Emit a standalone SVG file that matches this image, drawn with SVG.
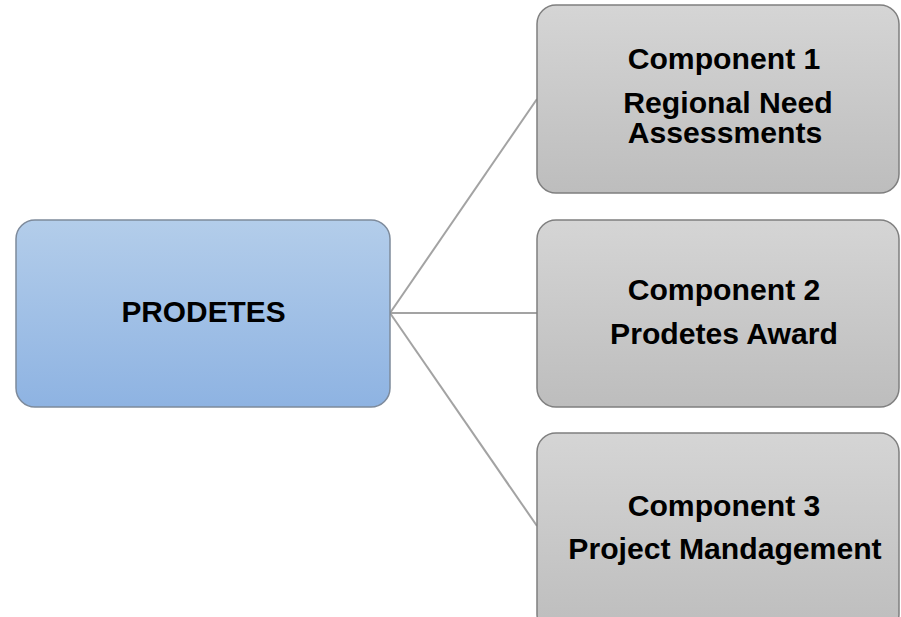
<svg xmlns="http://www.w3.org/2000/svg" width="901" height="617" viewBox="0 0 901 617">
  <defs>
    <linearGradient id="gBlue" x1="0" y1="0" x2="0" y2="1">
      <stop offset="0" stop-color="#b3cdea"/>
      <stop offset="1" stop-color="#8eb3e2"/>
    </linearGradient>
    <linearGradient id="gGray" x1="0" y1="0" x2="0" y2="1">
      <stop offset="0" stop-color="#d5d5d5"/>
      <stop offset="1" stop-color="#bdbdbd"/>
    </linearGradient>
    <style>
      .root { fill: url(#gBlue); stroke: #7d8a9b; stroke-width: 1.5; }
      .comp { fill: url(#gGray); stroke: #7f7f7f; stroke-width: 1.5; }
      .lbl { font-family: "Liberation Sans", Arial, sans-serif; font-weight: bold; font-size: 29px; fill: #000; text-anchor: middle; }
      .conn { stroke: #a3a3a3; stroke-width: 2; fill: none; }
    </style>
  </defs>
  <rect width="901" height="617" fill="#ffffff"/>

  <g id="connectors">
    <line class="conn" x1="390" y1="313" x2="537" y2="99"/>
    <line class="conn" x1="390" y1="313" x2="537" y2="313"/>
    <line class="conn" x1="390" y1="313" x2="537" y2="526"/>
  </g>

  <g id="node-prodetes">
    <rect class="root" x="16" y="220" width="374" height="187" rx="19" ry="19"/>
    <text class="lbl" transform="translate(203.5 322) scale(1.03 1)">PRODETES</text>
  </g>

  <g id="node-component1">
    <rect class="comp" x="537" y="5" width="362" height="188" rx="19" ry="19"/>
    <text class="lbl" transform="translate(724 69) scale(1.04 1)">Component 1</text>
    <text class="lbl" transform="translate(728 113) scale(1.04 1)">Regional Need</text>
    <text class="lbl" transform="translate(725 143) scale(1.04 1)">Assessments</text>
  </g>

  <g id="node-component2">
    <rect class="comp" x="537" y="220" width="362" height="187" rx="19" ry="19"/>
    <text class="lbl" transform="translate(724 300) scale(1.04 1)">Component 2</text>
    <text class="lbl" transform="translate(724 344) scale(1.04 1)">Prodetes Award</text>
  </g>

  <g id="node-component3">
    <rect class="comp" x="537" y="433" width="362" height="200" rx="19" ry="19"/>
    <text class="lbl" transform="translate(724 516) scale(1.04 1)">Component 3</text>
    <text class="lbl" transform="translate(725 559) scale(1.04 1)">Project Mandagement</text>
  </g>
</svg>
